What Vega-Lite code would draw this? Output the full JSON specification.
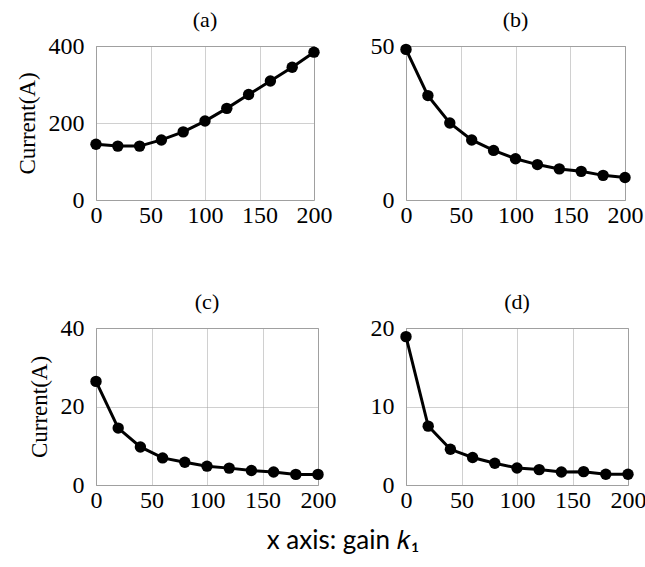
{
  "$schema": "https://vega.github.io/schema/vega-lite/v6.json",
  "padding": {"left": 15, "top": 8, "right": 5, "bottom": 5},
  "background": "white",
  "datasets": {
    "a": [{"k":0,"current":145},{"k":20,"current":140},{"k":40,"current":140},{"k":60,"current":156},{"k":80,"current":177},{"k":100,"current":205},{"k":120,"current":238},{"k":140,"current":274},{"k":160,"current":309},{"k":180,"current":345},{"k":200,"current":384}],
    "b": [{"k":0,"current":48.9},{"k":20,"current":33.9},{"k":40,"current":25.0},{"k":60,"current":19.5},{"k":80,"current":16.1},{"k":100,"current":13.4},{"k":120,"current":11.5},{"k":140,"current":10.1},{"k":160,"current":9.3},{"k":180,"current":8.0},{"k":200,"current":7.3}],
    "c": [{"k":0,"current":26.4},{"k":20,"current":14.5},{"k":40,"current":9.7},{"k":60,"current":6.9},{"k":80,"current":5.8},{"k":100,"current":4.8},{"k":120,"current":4.3},{"k":140,"current":3.7},{"k":160,"current":3.3},{"k":180,"current":2.7},{"k":200,"current":2.7}],
    "d": [{"k":0,"current":18.9},{"k":20,"current":7.5},{"k":40,"current":4.55},{"k":60,"current":3.5},{"k":80,"current":2.77},{"k":100,"current":2.17},{"k":120,"current":1.96},{"k":140,"current":1.66},{"k":160,"current":1.7},{"k":180,"current":1.36},{"k":200,"current":1.36}]
  },
  "title": {"text": "x axis: gain 𝑘₁", "orient": "bottom", "anchor": "middle", "font": "Lato", "fontSize": 26, "fontWeight": "normal", "color": "black", "offset": 15, "dx": 12},
  "columns": 2,
  "bounds": "flush",
  "spacing": {"row": 128, "column": 88},
  "concat": [
    {
      "title": {"text": "(a)"},
      "width": 218, "height": 154,
      "data": {"name": "a"},
      "mark": {"type": "line", "color": "black", "strokeWidth": 3, "point": {"filled": true, "size": 130, "color": "black"}},
      "encoding": {
        "x": {"field": "k", "type": "quantitative", "scale": {"domain": [0, 200]}, "axis": {"values": [0, 50, 100, 150, 200], "title": null}},
        "y": {"field": "current", "type": "quantitative", "scale": {"domain": [0, 400]}, "axis": {"values": [0, 200, 400], "title": "Current(A)"}}
      }
    },
    {
      "title": {"text": "(b)"},
      "width": 219, "height": 154,
      "data": {"name": "b"},
      "mark": {"type": "line", "color": "black", "strokeWidth": 3, "point": {"filled": true, "size": 130, "color": "black"}},
      "encoding": {
        "x": {"field": "k", "type": "quantitative", "scale": {"domain": [0, 200]}, "axis": {"values": [0, 50, 100, 150, 200], "title": null}},
        "y": {"field": "current", "type": "quantitative", "scale": {"domain": [0, 50]}, "axis": {"values": [0, 50], "title": null}}
      }
    },
    {
      "title": {"text": "(c)"},
      "width": 222, "height": 157,
      "data": {"name": "c"},
      "mark": {"type": "line", "color": "black", "strokeWidth": 3, "point": {"filled": true, "size": 130, "color": "black"}},
      "encoding": {
        "x": {"field": "k", "type": "quantitative", "scale": {"domain": [0, 200]}, "axis": {"values": [0, 50, 100, 150, 200], "title": null}},
        "y": {"field": "current", "type": "quantitative", "scale": {"domain": [0, 40]}, "axis": {"values": [0, 20, 40], "title": "Current(A)"}}
      }
    },
    {
      "title": {"text": "(d)"},
      "width": 222, "height": 157,
      "data": {"name": "d"},
      "mark": {"type": "line", "color": "black", "strokeWidth": 3, "point": {"filled": true, "size": 130, "color": "black"}},
      "encoding": {
        "x": {"field": "k", "type": "quantitative", "scale": {"domain": [0, 200]}, "axis": {"values": [0, 50, 100, 150, 200], "title": null}},
        "y": {"field": "current", "type": "quantitative", "scale": {"domain": [0, 20]}, "axis": {"values": [0, 10, 20], "title": null}}
      }
    }
  ],
  "config": {
    "view": {"stroke": "#a0a0a0", "strokeWidth": 1},
    "axis": {
      "labelFont": "Liberation Serif", "labelFontSize": 24, "labelColor": "black",
      "titleFont": "Liberation Serif", "titleFontSize": 23, "titleFontWeight": "normal", "titleColor": "black",
      "ticks": false, "domain": false, "labelFlush": false,
      "grid": true, "gridColor": "#a0a0a0", "gridDash": [1, 1], "gridWidth": 1
    },
    "axisX": {"labelPadding": 3},
    "axisY": {"labelPadding": 12, "titlePadding": 9},
    "title": {"font": "Liberation Serif", "fontSize": 22, "fontWeight": "normal", "color": "black", "offset": 2}
  }
}
